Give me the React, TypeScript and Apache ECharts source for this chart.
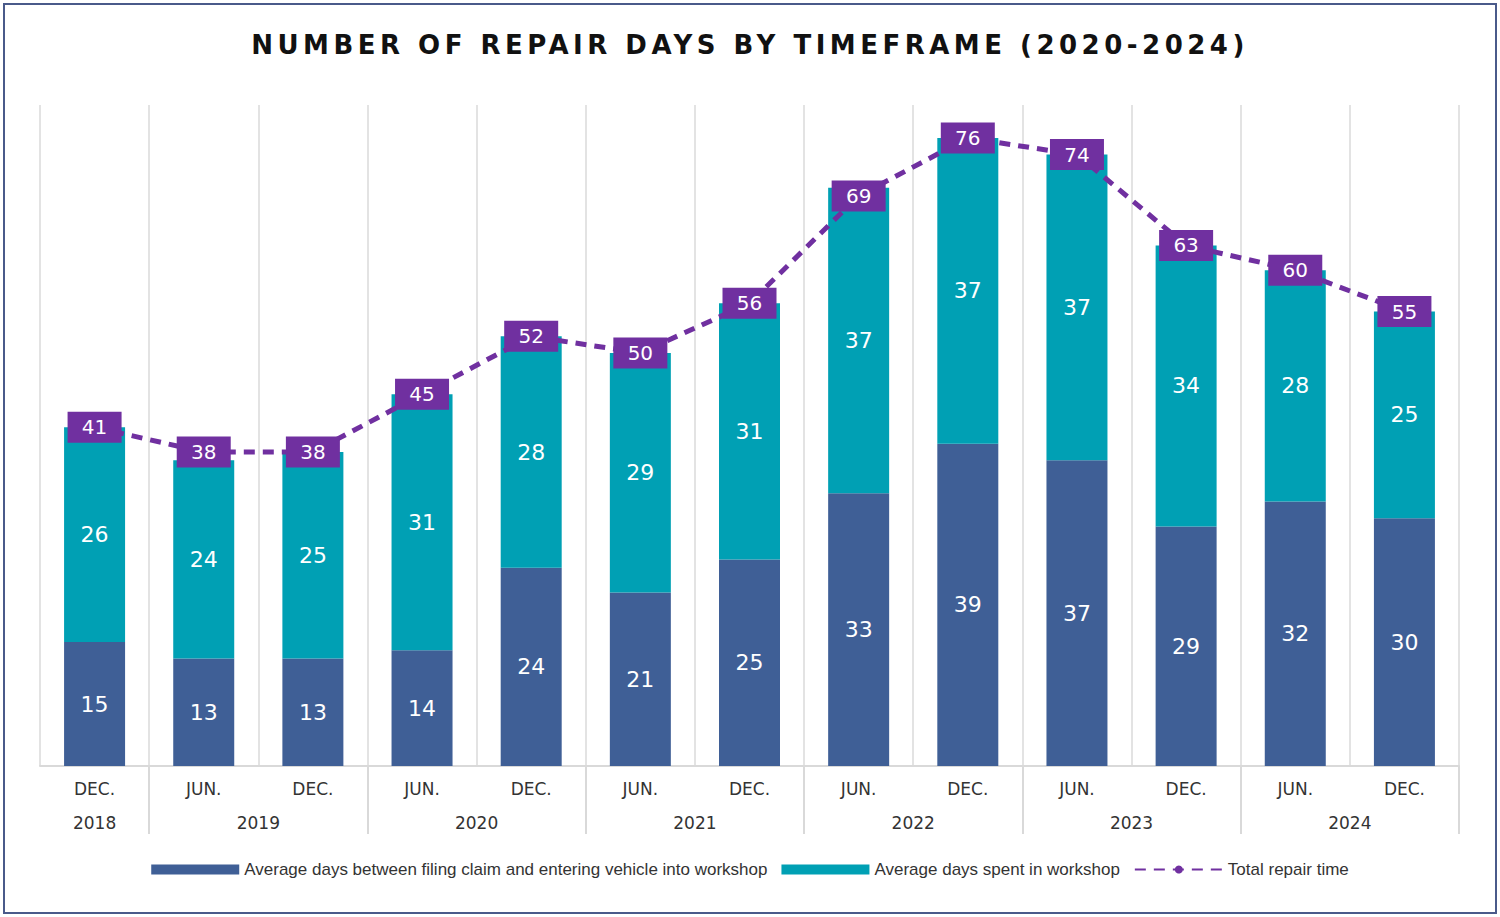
import { useEffect, useRef } from "react";
import * as echarts from "echarts";

const months = ["DEC.", "JUN.", "DEC.", "JUN.", "DEC.", "JUN.", "DEC.", "JUN.", "DEC.", "JUN.", "DEC.", "JUN.", "DEC."];
const years = ["2018", "2019", "2020", "2021", "2022", "2023", "2024"];
const waitDays = [15, 13, 13, 14, 24, 21, 25, 33, 39, 37, 29, 32, 30];
const workshopDays = [26, 24, 25, 31, 28, 29, 31, 37, 37, 37, 34, 28, 25];
const totalDays = [41, 38, 38, 45, 52, 50, 56, 69, 76, 74, 63, 60, 55];

const DARK = "#3f5f96";
const TEAL = "#00a0b4";
const PURPLE = "#7030a0";

export default function App() {
  const ref = useRef<HTMLDivElement | null>(null);

  useEffect(() => {
    if (!ref.current) return;
    const chart = echarts.init(ref.current, undefined, { renderer: "svg" });
    const barLabel = { show: true, position: "inside", color: "#fff", fontSize: 22, fontFamily: "DejaVu Sans" };
    chart.setOption({
      animation: false,
      grid: { left: 40, right: 41, top: 105, bottom: 151 },
      legend: {
        bottom: 34,
        itemWidth: 88,
        itemHeight: 10,
        itemGap: 14,
        textStyle: { fontSize: 17, color: "#333", fontFamily: "Liberation Sans" },
        data: [
          { name: "Average days between filing claim and entering vehicle into workshop", icon: "rect" },
          { name: "Average days spent in workshop", icon: "rect" },
          { name: "Total repair time" },
        ],
      },
      xAxis: {
        type: "category",
        data: months,
        axisLine: { lineStyle: { color: "#d9d9d9", width: 2 } },
        axisTick: {
          show: true,
          length: 68,
          lineStyle: { color: "#d9d9d9", width: 2 },
          interval: (i: number) => i % 2 === 1,
        },
        splitLine: { show: true, lineStyle: { color: "#e3e3e3", width: 2 } },
        axisLabel: { color: "#333", fontSize: 17, margin: 14, fontFamily: "DejaVu Sans", interval: 0 },
      },
      yAxis: { type: "value", min: 0, max: 80, show: false, splitLine: { show: false } },
      series: [
        {
          name: "Average days between filing claim and entering vehicle into workshop",
          type: "bar",
          stack: "t",
          barWidth: 61,
          data: waitDays,
          itemStyle: { color: DARK },
          label: barLabel,
        },
        {
          name: "Average days spent in workshop",
          type: "bar",
          stack: "t",
          data: workshopDays,
          itemStyle: { color: TEAL },
          label: barLabel,
        },
        {
          name: "Total repair time",
          type: "line",
          data: totalDays,
          z: 10,
          symbol: "circle",
          symbolSize: 1,
          lineStyle: { color: PURPLE, width: 5, type: [11, 8] },
          itemStyle: { color: PURPLE },
          label: {
            show: true,
            position: "inside",
            backgroundColor: PURPLE,
            color: "#fff",
            fontSize: 20,
            fontFamily: "DejaVu Sans",
            width: 54,
            align: "center",
            padding: [6, 0, 5, 0],
          },
        },
      ],
    });
    const elements = years.map((y, k) => {
      const x = k === 0
        ? (chart.convertToPixel({ xAxisIndex: 0 }, 0) as number)
        : ((chart.convertToPixel({ xAxisIndex: 0 }, 2 * k - 1) as number) + (chart.convertToPixel({ xAxisIndex: 0 }, 2 * k) as number)) / 2;
      return {
        type: "text",
        x,
        y: 823,
        style: { text: y, fill: "#333", fontSize: 17, fontFamily: "DejaVu Sans", align: "center", verticalAlign: "middle" },
      };
    });
    chart.setOption({ graphic: elements });
    return () => chart.dispose();
  }, []);

  return (
    <div style={{ position: "absolute", left: 0, top: 0, width: 1500, height: 917, background: "#fff" }}>
      <div style={{ position: "absolute", left: 3, top: 3, width: 1490, height: 907, border: "2px solid #4a5a8a" }} />
      <div
        style={{
          position: "absolute",
          top: 30,
          width: 1500,
          textAlign: "center",
          fontFamily: "DejaVu Sans",
          fontWeight: "bold",
          fontSize: 26,
          letterSpacing: 4.5,
          color: "#111",
        }}
      >
        NUMBER OF REPAIR DAYS BY TIMEFRAME (2020-2024)
      </div>
      <div ref={ref} style={{ position: "absolute", left: 0, top: 0, width: 1500, height: 917 }} />
    </div>
  );
}
